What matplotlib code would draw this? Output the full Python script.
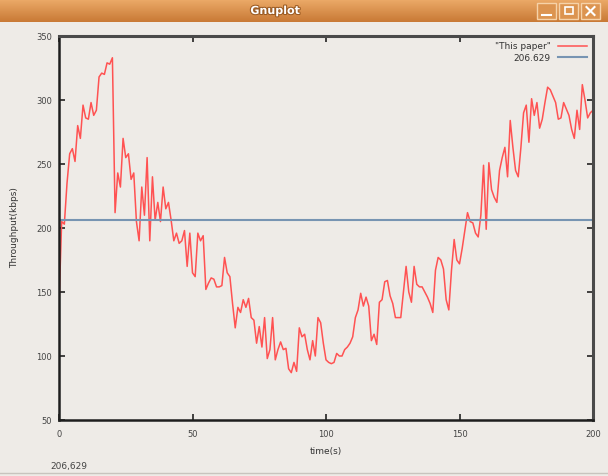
import numpy as np
import matplotlib
matplotlib.use("Agg")
import matplotlib.pyplot as plt
from matplotlib.patches import Rectangle
from matplotlib.lines import Line2D
import matplotlib.patheffects as pe

# throughput samples, one per second
time_s = list(range(0, 201))
throughput = [
    140, 205, 203, 235, 258, 262, 252, 280, 270, 296,   # 0-9
    286, 285, 298, 288, 292, 318, 321, 320, 329, 328,   # 10-19
    333, 212, 243, 232, 270, 255, 258, 238, 243, 205,   # 20-29
    190, 232, 210, 255, 190, 240, 206, 220, 205, 232,   # 30-39
    215, 220, 206, 190, 196, 188, 190, 198, 170, 196,   # 40-49
    165, 162, 196, 190, 194, 152, 157, 161, 160, 154,   # 50-59
    154, 155, 177, 165, 162, 141, 122, 138, 134, 144,   # 60-69
    138, 145, 130, 128, 110, 123, 107, 130, 98, 105,    # 70-79
    130, 97, 105, 111, 105, 106, 90, 87, 95, 88,        # 80-89
    122, 115, 117, 105, 97, 112, 100, 130, 126, 110,    # 90-99
    97, 95, 94, 95, 102, 100, 100, 105, 107, 110,       # 100-109
    115, 130, 136, 149, 139, 146, 139, 112, 117, 109,   # 110-119
    142, 144, 158, 159, 147, 141, 130, 130, 130, 150,   # 120-129
    170, 150, 142, 170, 156, 154, 154, 150, 146, 141,   # 130-139
    134, 167, 177, 175, 168, 144, 136, 167, 191, 175,   # 140-149
    172, 184, 198, 212, 205, 204, 196, 193, 210, 249,   # 150-159
    199, 251, 230, 224, 220, 245, 255, 263, 240, 284,   # 160-169
    263, 245, 240, 263, 290, 296, 267, 301, 288, 298,   # 170-179
    278, 285, 298, 310, 308, 303, 298, 285, 286, 298,   # 180-189
    293, 288, 277, 270, 292, 277, 312, 300, 286, 290,   # 190-199
    292,                                                # 200
]
mean_value = 206.629

bg = "#eeebe7"
W, H = 608, 476

fig = plt.figure(figsize=(W / 100, H / 100), dpi=100, facecolor=bg)

# window title bar
tax = fig.add_axes([0, 1 - 22 / H, 1, 22 / H])
grad = np.linspace(0, 1, 22).reshape(-1, 1)
top_c = np.array(matplotlib.colors.to_rgb("#eaa866"))
bot_c = np.array(matplotlib.colors.to_rgb("#c97a36"))
img = top_c + (bot_c - top_c) * grad[..., None]
img = np.repeat(img, 2, axis=1)
tax.imshow(img, extent=[0, W, 22, 0], aspect="auto")
tax.set_xlim(0, W)
tax.set_ylim(22, 0)
tax.axis("off")
tax.text(275, 11, "Gnuplot", color="white", fontsize=8, fontweight="bold",
         ha="center", va="center",
         path_effects=[pe.withStroke(linewidth=1.5, foreground="#9a5a22")])
for bx in (537, 559, 581):
    tax.add_patch(Rectangle((bx, 3), 19, 16, facecolor="#dc9450",
                            edgecolor="#f6d2a8", lw=1))
tax.plot([542, 551], [15, 15], color="white", lw=1.5)
tax.add_patch(Rectangle((564.5, 7), 8, 7, facecolor="none", edgecolor="white", lw=1.2))
tax.plot([586.5, 594.5], [7, 15], color="white", lw=1.5)
tax.plot([586.5, 594.5], [15, 7], color="white", lw=1.5)

# plot area
ax = fig.add_axes([59 / W, 1 - 420 / H, (593 - 59) / W, (420 - 36) / H])
ax.set_facecolor(bg)
ax.plot(time_s, throughput, color="#ff5252", lw=1.1, label='"This paper"')
ax.axhline(mean_value, color="#7794b2", lw=1.5, label="206.629")

ax.set_xlim(0, 200)
ax.set_ylim(50, 350)
ax.set_xticks([0, 50, 100, 150, 200])
ax.set_yticks([50, 100, 150, 200, 250, 300, 350])
ax.tick_params(direction="in", length=4, width=1.2, top=True, right=True,
               labelsize=6, labelcolor="#444444", color="#222222")
ax.tick_params(axis="x", pad=7)
ax.tick_params(axis="y", pad=5)
for side in ("left", "bottom"):
    ax.spines[side].set_linewidth(1.8)
    ax.spines[side].set_color("#1e1e1e")
for side in ("top", "right"):
    ax.spines[side].set_linewidth(2.2)
    ax.spines[side].set_color("#4a4a4a")

ax.set_xlabel("time(s)", fontsize=6.5, color="#333333", labelpad=6)
ax.set_ylabel("Throughput(kbps)", fontsize=6.5, color="#333333", labelpad=12)

ax.legend(loc="upper right", frameon=False, markerfirst=False, fontsize=6.5,
          handlelength=3.2, handletextpad=0.8, labelspacing=0.25,
          borderaxespad=0.3, labelcolor="#333333")

# status line at the bottom of the window
fig.text(50 / W, 1 - 466 / H, "206,629", fontsize=6.5, color="#444444",
         va="center", ha="left")
fig.add_artist(Line2D([0, 1], [1 - 473 / H] * 2, transform=fig.transFigure,
                      color="#c8c4be", lw=1))

fig.savefig("out.png", dpi=100, facecolor=bg)
